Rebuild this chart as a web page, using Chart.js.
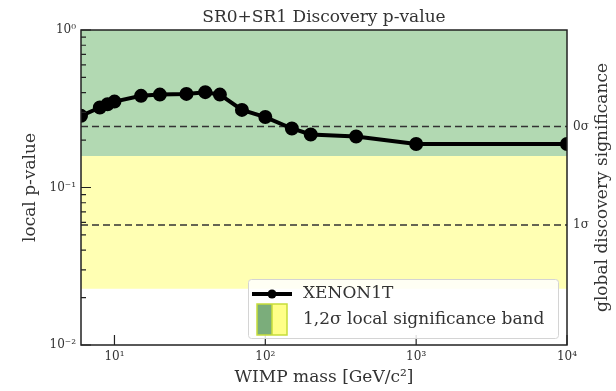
<!DOCTYPE html>
<html>
<head>
<meta charset="utf-8">
<script src="https://cdn.jsdelivr.net/npm/chart.js@4"></script>
<style>
  html, body { margin: 0; padding: 0; background: #fff; }
  #wrap { width: 616px; height: 391px; }
</style>
</head>
<body>
<div id="wrap"><canvas id="chart"></canvas></div>
<script>
// data
const masses = [6, 8, 9, 10, 15, 20, 30, 40, 50, 70, 100, 150, 200, 400, 1000, 10000];
const pLocal = [0.285, 0.322, 0.338, 0.351, 0.382, 0.389, 0.393, 0.403, 0.389, 0.311, 0.280, 0.237, 0.217, 0.211, 0.189, 0.189];
const band1 = [0.1587, 1];      // 1 sigma local (green)
const band2 = [0.02275, 0.1587]; // 2 sigma local (yellow)
const globalP = [0.244, 0.0578];
const globalLabels = ['0σ', '1σ'];
const xTicks = [10, 100, 1000, 10000];
const xRange = [6, 10000];
const yRange = [0.01, 1];

const FONT = "'DejaVu Serif', serif";
const TXT = '#333';
const SUP = { '-': '⁻', '0': '⁰', '1': '¹', '2': '²', '3': '³', '4': '⁴' };
const pow10Label = v => {
  const e = Math.round(Math.log10(v));
  return '10' + String(e).split('').map(c => SUP[c]).join('');
};
const isPow10 = v => Math.abs(Math.log10(v) - Math.round(Math.log10(v))) < 1e-9;

const edgeLine = (y) => [{ x: xRange[0], y: y }, { x: xRange[1], y: y }];

// inward ticks, frame, title, right label, legend
const decor = {
  id: 'decor',
  afterDatasetsDraw(chart) {
    const { ctx, chartArea: a, scales } = chart;
    ctx.save();
    ctx.strokeStyle = '#222';
    ctx.lineWidth = 1.2;
    ctx.beginPath();
    scales.y.ticks.forEach(t => {
      const py = scales.y.getPixelForValue(t.value);
      const len = isPow10(t.value) ? 10 : 5;
      ctx.moveTo(a.left, py); ctx.lineTo(a.left + len, py);
    });
    scales.x.ticks.forEach(t => {
      const px = scales.x.getPixelForValue(t.value);
      ctx.moveTo(px, a.bottom); ctx.lineTo(px, a.bottom - 10);
    });
    ctx.stroke();
    ctx.lineWidth = 1.5;
    ctx.strokeRect(a.left, a.top, a.right - a.left, a.bottom - a.top);
    ctx.restore();
  },
  afterDraw(chart) {
    const { ctx, chartArea: a } = chart;
    ctx.save();
    ctx.fillStyle = TXT;
    ctx.font = '17px ' + FONT;
    ctx.textAlign = 'center';
    ctx.textBaseline = 'alphabetic';
    ctx.fillText('SR0+SR1 Discovery p-value', (a.left + a.right) / 2, 22);

    ctx.translate(603, (a.top + a.bottom) / 2);
    ctx.rotate(-Math.PI / 2);
    ctx.textBaseline = 'middle';
    ctx.fillText('global discovery significance', 0, 0);
    ctx.restore();

    // legend
    const w = 310, h = 59;
    const L = a.right - 9 - w, T = a.bottom - 7 - h;
    ctx.save();
    ctx.fillStyle = 'rgba(255,255,255,0.85)';
    ctx.strokeStyle = '#d4d4d4';
    ctx.lineWidth = 1;
    ctx.beginPath();
    ctx.roundRect(L + 0.5, T + 0.5, w, h, 3);
    ctx.fill(); ctx.stroke();

    const y1 = T + 15;
    ctx.strokeStyle = '#000';
    ctx.lineWidth = 4;
    ctx.beginPath(); ctx.moveTo(L + 4, y1); ctx.lineTo(L + 44, y1); ctx.stroke();
    ctx.fillStyle = '#000';
    ctx.beginPath(); ctx.arc(L + 24, y1, 4.5, 0, Math.PI * 2); ctx.fill();

    const pT = T + 25, pH = 31;
    ctx.fillStyle = '#7bad7b';
    ctx.fillRect(L + 9, pT, 15, pH);
    ctx.fillStyle = '#ffff88';
    ctx.fillRect(L + 24, pT, 15, pH);
    ctx.strokeStyle = '#c6dd3a';
    ctx.lineWidth = 1.5;
    ctx.strokeRect(L + 9, pT, 30, pH);
    ctx.beginPath(); ctx.moveTo(L + 24, pT); ctx.lineTo(L + 24, pT + pH); ctx.stroke();

    ctx.fillStyle = TXT;
    ctx.font = '17px ' + FONT;
    ctx.textAlign = 'left';
    ctx.textBaseline = 'middle';
    ctx.fillText('XENON1T', L + 55, y1);
    ctx.fillText('1,2σ local significance band', L + 55, T + 41);
    ctx.restore();
  }
};

new Chart(document.getElementById('chart'), {
  type: 'line',
  data: {
    datasets: [
      {
        label: 'XENON1T',
        data: masses.map((m, i) => ({ x: m, y: pLocal[i] })),
        borderColor: '#000', backgroundColor: '#000',
        borderWidth: 4, pointRadius: 5, pointHoverRadius: 5,
        fill: false, clip: 0, order: 0
      },
      ...globalP.map(p => ({
        data: edgeLine(p),
        borderColor: '#333', borderWidth: 1.7, borderDash: [7, 4],
        pointRadius: 0, fill: false, order: 1
      })),
      {
        data: edgeLine(band1[1]),
        borderWidth: 0, pointRadius: 0,
        backgroundColor: '#b2d9b2', fill: { value: band1[0] }, order: 3
      },
      {
        data: edgeLine(band2[1]),
        borderWidth: 0, pointRadius: 0,
        backgroundColor: '#ffffb3', fill: { value: band2[0] }, order: 4
      }
    ]
  },
  plugins: [decor],
  options: {
    responsive: true,
    maintainAspectRatio: false,
    animation: false,
    layout: { padding: { top: 30, left: 0, right: 0, bottom: 0 } },
    plugins: { legend: { display: false }, tooltip: { enabled: false }, title: { display: false } },
    scales: {
      x: {
        type: 'logarithmic', min: xRange[0], max: xRange[1],
        afterBuildTicks: s => { s.ticks = xTicks.map(v => ({ value: v })); },
        afterFit: s => { s.height = 46; },
        grid: { display: false, drawTicks: false },
        border: { display: false },
        ticks: { callback: v => pow10Label(v), color: TXT, font: { family: FONT, size: 12 }, padding: 5, maxRotation: 0, autoSkip: false },
        title: { display: true, text: 'WIMP mass [GeV/c²]', color: TXT, font: { family: FONT, size: 17 }, padding: { top: 0, bottom: 3 } }
      },
      y: {
        type: 'logarithmic', min: yRange[0], max: yRange[1], position: 'left',
        afterBuildTicks: s => {
          const t = [];
          for (let e = -2; e < 0; e++) for (let k = 1; k < 10; k++) t.push({ value: k * Math.pow(10, e) });
          t.push({ value: 1 });
          s.ticks = t;
        },
        afterFit: s => { s.width = 81; },
        grid: { display: false, drawTicks: false },
        border: { display: false },
        ticks: { callback: v => isPow10(v) ? pow10Label(v) : '', color: TXT, font: { family: FONT, size: 12 }, padding: 5, autoSkip: false },
        title: { display: true, text: 'local p-value', color: TXT, font: { family: FONT, size: 17 }, padding: { top: 20, bottom: 0 } }
      },
      y2: {
        type: 'logarithmic', min: yRange[0], max: yRange[1], position: 'right',
        afterBuildTicks: s => { s.ticks = globalP.map(v => ({ value: v })); },
        afterFit: s => { s.width = 49; },
        grid: { display: false, drawTicks: false },
        border: { display: false },
        ticks: { callback: (v, i) => globalLabels[i], color: TXT, font: { family: FONT, size: 12 }, padding: 6, autoSkip: false }
      }
    }
  }
});
</script>
</body>
</html>
